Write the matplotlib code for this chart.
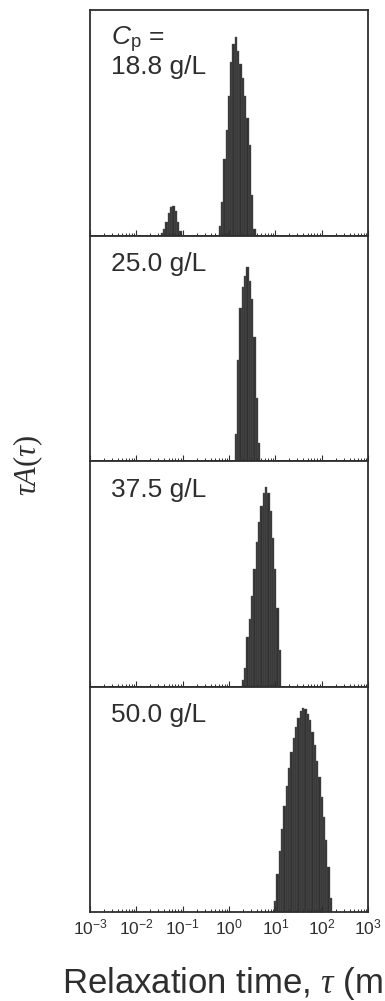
import numpy as np
import matplotlib
matplotlib.use('Agg')
import matplotlib.pyplot as plt

plt.rcParams['font.family'] = ['Liberation Sans', 'DejaVu Sans']
plt.rcParams['mathtext.fontset'] = 'custom'
plt.rcParams['mathtext.rm'] = 'Liberation Serif'
plt.rcParams['mathtext.it'] = 'Liberation Serif:italic'
plt.rcParams['mathtext.sf'] = 'Liberation Sans'
plt.rcParams['mathtext.cal'] = 'Liberation Sans:italic'

# concentration labels of the four panels
concentrations = ['18.8 g/L', '25.0 g/L', '37.5 g/L', '50.0 g/L']

# log10(tau / ms) bin centres and tau*A(tau) heights
log_tau_1 = [-1.45, -1.40, -1.35, -1.30, -1.25, -1.20, -1.15, -1.10, -1.05,
             -0.20, -0.15, -0.10, -0.05, 0.00, 0.05, 0.10, 0.15, 0.20, 0.25,
             0.30, 0.35, 0.40, 0.45, 0.50, 0.55]
amp_1 = [0.01, 0.03, 0.06, 0.10, 0.125, 0.13, 0.11, 0.06, 0.02,
         0.04, 0.15, 0.34, 0.47, 0.62, 0.77, 0.85, 0.88, 0.82, 0.76,
         0.70, 0.62, 0.52, 0.40, 0.18, 0.03]

log_tau_2 = [0.15, 0.20, 0.25, 0.30, 0.35, 0.40, 0.45, 0.50, 0.55, 0.60, 0.65]
amp_2 = [0.12, 0.45, 0.68, 0.77, 0.82, 0.86, 0.80, 0.72, 0.55, 0.28, 0.08]

log_tau_3 = [0.30, 0.35, 0.40, 0.45, 0.50, 0.55, 0.60, 0.65, 0.70, 0.75,
             0.80, 0.85, 0.90, 0.95, 1.00, 1.05, 1.10]
amp_3 = [0.03, 0.08, 0.22, 0.30, 0.40, 0.52, 0.64, 0.73, 0.80, 0.86,
         0.885, 0.86, 0.78, 0.66, 0.52, 0.35, 0.16]

log_tau_4 = [1.00, 1.05, 1.10, 1.15, 1.20, 1.25, 1.30, 1.35, 1.40, 1.45,
             1.50, 1.55, 1.60, 1.65, 1.70, 1.75, 1.80, 1.85, 1.90, 1.95,
             2.00, 2.05, 2.10, 2.15, 2.20]
amp_4 = [0.05, 0.17, 0.27, 0.37, 0.47, 0.56, 0.64, 0.71, 0.77, 0.82,
         0.86, 0.89, 0.905, 0.90, 0.88, 0.85, 0.80, 0.74, 0.67, 0.60,
         0.51, 0.42, 0.32, 0.20, 0.06]

x_ticks = [1e-3, 1e-2, 1e-1, 1e0, 1e1, 1e2, 1e3]
x_tick_labels = [r'$\mathsf{10^{-3}}$', r'$\mathsf{10^{-2}}$', r'$\mathsf{10^{-1}}$',
                 r'$\mathsf{10^{0}}$', r'$\mathsf{10^{1}}$', r'$\mathsf{10^{2}}$',
                 r'$\mathsf{10^{3}}$']

panels = [(log_tau_1, amp_1), (log_tau_2, amp_2), (log_tau_3, amp_3), (log_tau_4, amp_4)]
bin_w = 0.05
ink = '#2e2e2e'

fig = plt.figure(figsize=(3.85, 10.01), dpi=100)
gs = fig.add_gridspec(4, 1, left=90 / 385, right=368 / 385,
                      bottom=1 - 912 / 1001, top=1 - 10 / 1001, hspace=0)

for i, (lt, amp) in enumerate(panels):
    ax = fig.add_subplot(gs[i])
    lt = np.array(lt)
    left = 10 ** (lt - bin_w / 2)
    right = 10 ** (lt + bin_w / 2)
    ax.bar(left, amp, width=right - left, align='edge', color='#323232',
           edgecolor='#5c5c5c', linewidth=0.3)
    ax.set_xscale('log')
    ax.set_xlim(1e-3, 1e3)
    ax.set_ylim(0, 1)
    ax.set_yticks([])
    ax.set_xticks(x_ticks)
    ax.xaxis.set_minor_locator(matplotlib.ticker.LogLocator(base=10, subs=np.arange(2, 10), numticks=20))
    ax.tick_params(axis='x', which='major', direction='in', length=4, width=0.8,
                   color=ink, top=False, pad=4)
    ax.tick_params(axis='x', which='minor', direction='in', length=2.2, width=0.7,
                   color=ink, top=False)
    for s in ax.spines.values():
        s.set_color(ink)
        s.set_linewidth(1.3)
    if i == 3:
        ax.set_xticklabels(x_tick_labels, fontsize=12.5, color=ink)
    else:
        ax.set_xticklabels([])

    if i == 0:
        ax.text(0.075, 0.935, r'$\mathcal{C}_\mathsf{p}$ =', transform=ax.transAxes,
                fontsize=19, color=ink, ha='left', va='top')
        ax.text(0.075, 0.80, concentrations[i], transform=ax.transAxes,
                fontsize=19, color=ink, ha='left', va='top')
    else:
        ax.text(0.075, 0.925, concentrations[i], transform=ax.transAxes,
                fontsize=19, color=ink, ha='left', va='top')

fig.text(28 / 385, 1 - 465 / 1001, r'$\tau A(\tau)$', rotation=90, fontsize=22,
         color=ink, ha='center', va='center')
fig.text(62 / 385, 1 - 993 / 1001, r'Relaxation time, $\tau$ (ms)', fontsize=25,
         color=ink, ha='left', va='baseline')

plt.savefig('out.png', dpi=100)
